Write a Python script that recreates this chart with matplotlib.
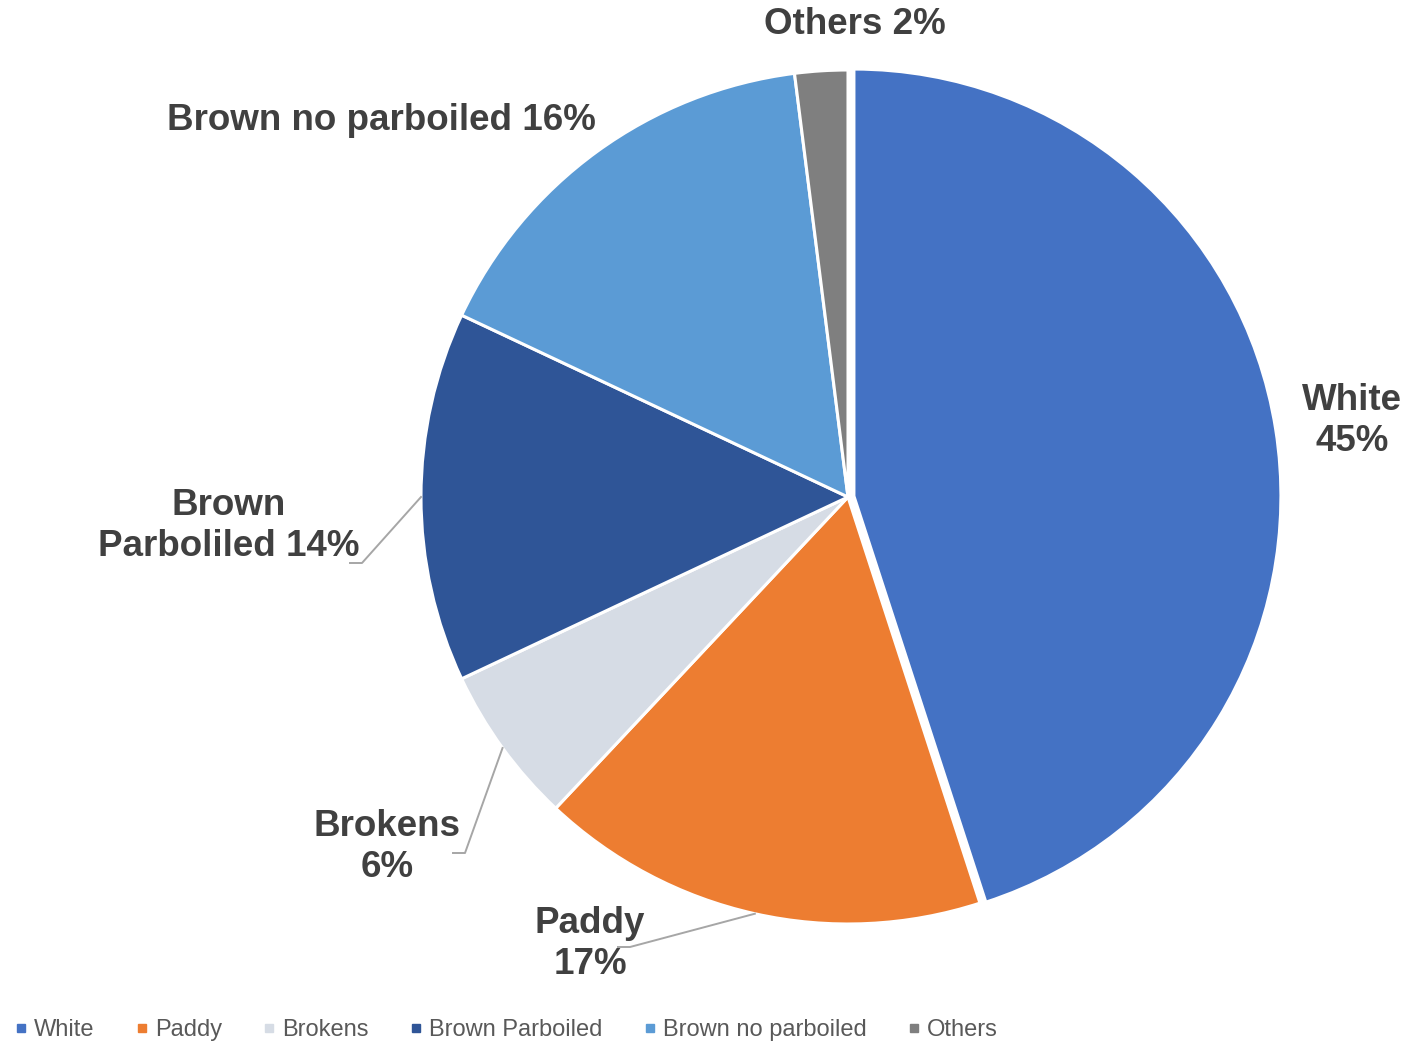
import numpy as np
import matplotlib
matplotlib.use('Agg')
import matplotlib.pyplot as plt
from matplotlib.lines import Line2D

W, H = 1406, 1042

# Data
categories = ['White', 'Paddy', 'Brokens', 'Brown Parboiled', 'Brown no parboiled', 'Others']
shares = [45, 17, 6, 14, 16, 2]
slice_labels = ['White\n45%', 'Paddy\n17%', 'Brokens\n6%', 'Brown\nParboliled 14%',
                'Brown no parboiled 16%', 'Others 2%']
colors = ['#4472C4', '#ED7D31', '#D6DCE5', '#2F5597', '#5B9BD5', '#7F7F7F']

plt.rcParams['font.family'] = ['Liberation Sans', 'DejaVu Sans']

fig = plt.figure(figsize=(W / 100, H / 100), dpi=100)
ax = fig.add_axes([0, 0, 1, 1])

# pixel-like coordinates (y down), so start at -90 and go counterclockwise in data
cx, cy, r = 848, 497, 427
wedges, _ = ax.pie(shares, colors=colors, startangle=-90, counterclock=True,
                   center=(cx, cy), radius=r, explode=[6, 0, 0, 0, 0, 0],
                   wedgeprops=dict(edgecolor='white', linewidth=2.2))
ax.set_xlim(0, W)
ax.set_ylim(H, 0)
ax.axis('off')

# Label positions (block centres) and leader line elbows
label_pos = [(1352, 421), (590, 944), (387, 847), (229, 526), (381, 120), (855, 25)]
leaders = {1: [(630, 947), (618, 947)],
           2: [(465, 853), (453, 853)],
           3: [(362, 563), (350, 563)]}

for i, (w, txt) in enumerate(zip(wedges, slice_labels)):
    x, y = label_pos[i]
    ax.text(x, y, txt, ha='center', va='center', multialignment='center',
            fontsize=26.5, fontweight='bold', color='#404040', linespacing=1.24)
    if i in leaders:
        mid = np.deg2rad((w.theta1 + w.theta2) / 2)
        sx, sy = w.center[0] + w.r * np.cos(mid), w.center[1] + w.r * np.sin(mid)
        pts = [(sx, sy)] + leaders[i]
        ax.plot([p[0] for p in pts], [p[1] for p in pts], color='#A6A6A6', lw=1.4)

handles = [Line2D([], [], marker='s', color=c, linestyle='none', markersize=6) for c in colors]
fig.legend(handles, categories, loc='center left', bbox_to_anchor=(16 / W, 1 - 1030 / H),
           ncol=6, frameon=False, fontsize=17, handlelength=0.4, handletextpad=0.35,
           columnspacing=1.81, borderpad=0, borderaxespad=0, labelcolor='#595959')

plt.savefig('out.png', dpi=100, facecolor='white')
plt.close()
